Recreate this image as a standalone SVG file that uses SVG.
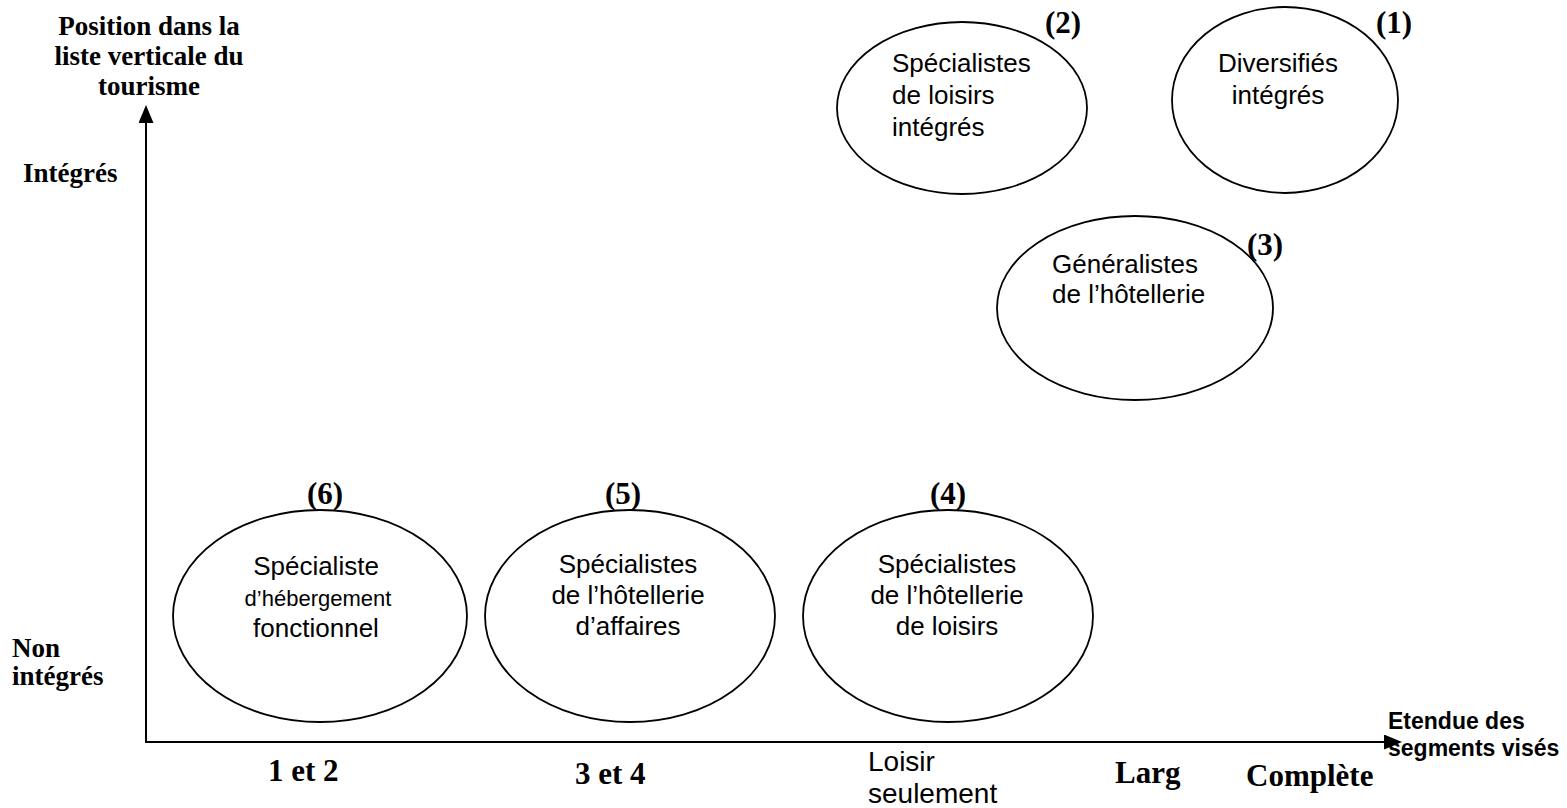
<svg xmlns="http://www.w3.org/2000/svg" width="1567" height="808" viewBox="0 0 1567 808">
  <defs>
    <!-- arrowhead attached at its base, so the shaft stops where the head begins -->
    <marker id="arrow" viewBox="0 0 18 15" refX="0" refY="7.5" markerWidth="18" markerHeight="15" markerUnits="userSpaceOnUse" orient="auto">
      <path d="M0,0 L18,7.5 L0,15 z" fill="#000"/>
    </marker>
    <style>
      .axis { stroke: #000; stroke-width: 2; fill: none; }
      .node ellipse { fill: #fff; stroke: #000; stroke-width: 1.8; }
      .serif { font-family: "Liberation Serif", "Times New Roman", serif; font-weight: bold; font-size: 27px; fill: #000; }
      .tag { font-family: "Liberation Serif", "Times New Roman", serif; font-weight: bold; font-size: 31px; fill: #000; }
      .sans { font-family: "Liberation Sans", Arial, sans-serif; font-size: 26px; fill: #000; }
      .sansb { font-family: "Liberation Sans", Arial, sans-serif; font-weight: bold; font-size: 23px; fill: #000; }
      .mid { text-anchor: middle; }
    </style>
  </defs>
  <rect width="1567" height="808" fill="#fff"/>

  <!-- axes -->
  <g id="connectors">
    <line class="axis" x1="146" y1="743" x2="146" y2="123" marker-end="url(#arrow)"/>
    <line class="axis" x1="145" y1="742" x2="1384" y2="742" marker-end="url(#arrow)"/>
  </g>

  <!-- vertical axis title and levels -->
  <g id="y-axis-labels">
    <text class="serif mid" x="149" y="35">Position dans la</text>
    <text class="serif mid" x="149" y="65">liste verticale du</text>
    <text class="serif mid" x="149" y="95">tourisme</text>
    <text class="serif" x="23" y="182">Intégrés</text>
    <text class="serif" x="12" y="657">Non</text>
    <text class="serif" x="12" y="685">intégrés</text>
  </g>

  <!-- horizontal axis title and levels -->
  <g id="x-axis-labels">
    <text class="tag" x="268" y="781">1 et 2</text>
    <text class="tag" x="575" y="784">3 et 4</text>
    <text class="sans" x="868" y="771" style="font-size:28px">Loisir</text>
    <text class="sans" x="868" y="803" style="font-size:28px">seulement</text>
    <text class="tag" x="1115" y="783">Larg</text>
    <text class="tag" x="1246" y="786">Complète</text>
    <text class="sansb" x="1388" y="729">Etendue des</text>
    <text class="sansb" x="1388" y="756">segments visés</text>
  </g>

  <!-- (1) Diversifiés intégrés -->
  <g id="node1" class="node">
    <ellipse cx="1285" cy="100" rx="113" ry="93"/>
    <text class="sans mid" x="1278" y="72">Diversifiés</text>
    <text class="sans mid" x="1278" y="104">intégrés</text>
    <text class="tag" x="1376" y="33">(1)</text>
  </g>

  <!-- (2) Spécialistes de loisirs intégrés -->
  <g id="node2" class="node">
    <ellipse cx="962" cy="108" rx="125" ry="86"/>
    <text class="sans" x="892" y="72">Spécialistes</text>
    <text class="sans" x="892" y="104">de loisirs</text>
    <text class="sans" x="892" y="136">intégrés</text>
    <text class="tag" x="1045" y="33">(2)</text>
  </g>

  <!-- (3) Généralistes de l'hôtellerie -->
  <g id="node3" class="node">
    <ellipse cx="1135" cy="308" rx="138" ry="92"/>
    <text class="sans" x="1052" y="273">Généralistes</text>
    <text class="sans" x="1052" y="303">de l’hôtellerie</text>
    <text class="tag" x="1247" y="255">(3)</text>
  </g>

  <!-- (4) Spécialistes de l'hôtellerie de loisirs -->
  <g id="node4" class="node">
    <ellipse cx="948" cy="616" rx="145" ry="106"/>
    <text class="sans mid" x="947" y="573">Spécialistes</text>
    <text class="sans mid" x="947" y="604">de l’hôtellerie</text>
    <text class="sans mid" x="947" y="635">de loisirs</text>
    <text class="tag mid" x="948" y="504">(4)</text>
  </g>

  <!-- (5) Spécialistes de l'hôtellerie d'affaires -->
  <g id="node5" class="node">
    <ellipse cx="630" cy="616" rx="145" ry="106"/>
    <text class="sans mid" x="628" y="573">Spécialistes</text>
    <text class="sans mid" x="628" y="604">de l’hôtellerie</text>
    <text class="sans mid" x="628" y="635">d’affaires</text>
    <text class="tag mid" x="623" y="504">(5)</text>
  </g>

  <!-- (6) Spécialiste d'hébergement fonctionnel -->
  <g id="node6" class="node">
    <ellipse cx="320" cy="616" rx="147" ry="106"/>
    <text class="sans mid" x="316" y="575">Spécialiste</text>
    <text class="sans mid" x="318" y="606" style="font-size:22px">d’hébergement</text>
    <text class="sans mid" x="316" y="637">fonctionnel</text>
    <text class="tag mid" x="325" y="504">(6)</text>
  </g>
</svg>
